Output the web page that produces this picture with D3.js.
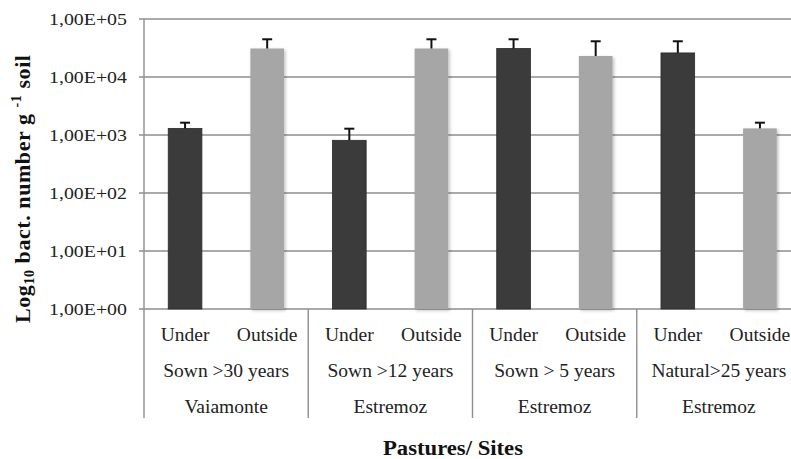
<!DOCTYPE html>
<html>
<head>
<meta charset="utf-8">
<script src="https://cdn.jsdelivr.net/npm/d3@7"></script>
<style>
  html, body { margin: 0; padding: 0; background: #fff; }
  svg { display: block; font-family: "Liberation Serif", "Times New Roman", serif; }
</style>
</head>
<body>
<svg id="chart" width="791" height="459"></svg>
<script>
// Bacterial counts (number per g of soil), under vs outside the tree canopy
const pastures = ["Sown >30 years", "Sown >12 years", "Sown > 5 years", "Natural>25 years"];
const sites = ["Vaiamonte", "Estremoz", "Estremoz", "Estremoz"];
const positions = ["Under", "Outside"];
const underMean = [1300, 810, 31000, 26000];
const outsideMean = [31000, 31000, 23000, 1300];
const underErr = [330, 475, 13700, 15300];
const outsideErr = [13700, 13700, 18300, 330];
const yTicks = [1e0, 1e1, 1e2, 1e3, 1e4, 1e5];
const yTickLabels = ["1,00E+00", "1,00E+01", "1,00E+02", "1,00E+03", "1,00E+04", "1,00E+05"];

(function () {
const svg = d3.select("#chart");
const plotL = 144, plotR = 801, plotT = 19, plotB = 309, axisFoot = 418;

const rows = [];
pastures.forEach((p, i) => {
  rows.push({ key: i + "-u", group: i, pos: positions[0], mean: underMean[i], err: underErr[i], color: "#3b3b3b" });
  rows.push({ key: i + "-o", group: i, pos: positions[1], mean: outsideMean[i], err: outsideErr[i], color: "#a6a6a6" });
});

const y = d3.scaleLog().domain([1, 1e5]).range([plotB, plotT]);
const x = d3.scaleBand().domain(rows.map(d => d.key)).range([plotL, plotR])
  .paddingInner(0.59).paddingOuter(0.295);
const g = d3.scaleBand().domain(d3.range(pastures.length)).range([plotL, plotR]).padding(0);

// soft shadow for the light bars
const defs = svg.append("defs");
const f = defs.append("filter").attr("id", "soft").attr("x", "-20%").attr("y", "-5%")
  .attr("width", "150%").attr("height", "115%");
f.append("feDropShadow").attr("dx", 1.5).attr("dy", 1.5).attr("stdDeviation", 1.6)
  .attr("flood-color", "#000").attr("flood-opacity", 0.25);

// horizontal gridlines
svg.append("g").selectAll("line").data(yTicks).join("line")
  .attr("x1", plotL - 5).attr("x2", plotR)
  .attr("y1", d => y(d)).attr("y2", d => y(d))
  .attr("stroke", "#8e8e8e").attr("stroke-width", 1.4);

// y axis with labels
const yAxis = d3.axisLeft(y).tickValues(yTicks).tickSize(0).tickPadding(17)
  .tickFormat((d, i) => yTickLabels[i]);
const ya = svg.append("g").attr("transform", `translate(${plotL},0)`).call(yAxis);
ya.select(".domain").remove();
ya.selectAll("text").attr("font-size", 17.5).attr("fill", "#222")
  .attr("font-family", "Liberation Serif, serif").attr("dy", "0.34em")
  .attr("textLength", 78).attr("lengthAdjust", "spacingAndGlyphs");

// vertical axis line and group dividers
svg.append("line").attr("x1", plotL).attr("x2", plotL).attr("y1", plotT).attr("y2", axisFoot)
  .attr("stroke", "#8e8e8e").attr("stroke-width", 1.4);
svg.append("g").selectAll("line").data(d3.range(1, pastures.length + 1)).join("line")
  .attr("x1", d => g(d - 1) + g.bandwidth()).attr("x2", d => g(d - 1) + g.bandwidth())
  .attr("y1", plotB).attr("y2", axisFoot)
  .attr("stroke", "#8e8e8e").attr("stroke-width", 1.4);

// bars
svg.append("g").selectAll("rect").data(rows).join("rect")
  .attr("x", d => x(d.key)).attr("width", x.bandwidth())
  .attr("y", d => y(d.mean)).attr("height", d => plotB - y(d.mean))
  .attr("fill", d => d.color)
  .attr("stroke", d => d.pos === "Under" ? "#2a2a2a" : "none").attr("stroke-width", 0.8)
  .attr("filter", d => d.pos === "Outside" ? "url(#soft)" : null);

// upper error bars
const eb = svg.append("g").attr("stroke", "#111").attr("stroke-width", 2);
eb.selectAll("line.v").data(rows).join("line").attr("class", "v")
  .attr("x1", d => x(d.key) + x.bandwidth() / 2).attr("x2", d => x(d.key) + x.bandwidth() / 2)
  .attr("y1", d => y(d.mean)).attr("y2", d => y(d.mean + d.err));
eb.selectAll("line.c").data(rows).join("line").attr("class", "c")
  .attr("x1", d => x(d.key) + x.bandwidth() / 2 - 5).attr("x2", d => x(d.key) + x.bandwidth() / 2 + 5)
  .attr("y1", d => y(d.mean + d.err)).attr("y2", d => y(d.mean + d.err));

// category labels: position, pasture, site
const lab = svg.append("g").attr("font-size", 19.5).attr("fill", "#222").attr("text-anchor", "middle");
lab.selectAll("text.pos").data(rows).join("text").attr("class", "pos")
  .attr("x", d => x(d.key) + x.bandwidth() / 2).attr("y", 340.5).text(d => d.pos);
lab.selectAll("text.pas").data(pastures).join("text").attr("class", "pas")
  .attr("x", (d, i) => g(i) + g.bandwidth() / 2).attr("y", 377).text(d => d);
lab.selectAll("text.site").data(sites).join("text").attr("class", "site")
  .attr("x", (d, i) => g(i) + g.bandwidth() / 2).attr("y", 413).text(d => d);

// axis titles
svg.append("text").attr("x", 453).attr("y", 455).attr("text-anchor", "middle")
  .attr("font-size", 20).attr("font-weight", "bold").attr("fill", "#111")
  .attr("textLength", 140).attr("lengthAdjust", "spacingAndGlyphs").text("Pastures/ Sites");

const yt = svg.append("text").attr("transform", "translate(30,189) rotate(-90)")
  .attr("text-anchor", "middle").attr("font-size", 22).attr("font-weight", "bold").attr("fill", "#111")
  .attr("textLength", 268).attr("lengthAdjust", "spacing");
yt.append("tspan").text("Log");
yt.append("tspan").attr("font-size", 14).attr("dy", 4).text("10");
yt.append("tspan").attr("dy", -4).text("  bact. number g ");
yt.append("tspan").attr("font-size", 14).attr("dy", -9).text("-1");
yt.append("tspan").attr("dy", 9).text("  soil");
})();
</script>
</body>
</html>
